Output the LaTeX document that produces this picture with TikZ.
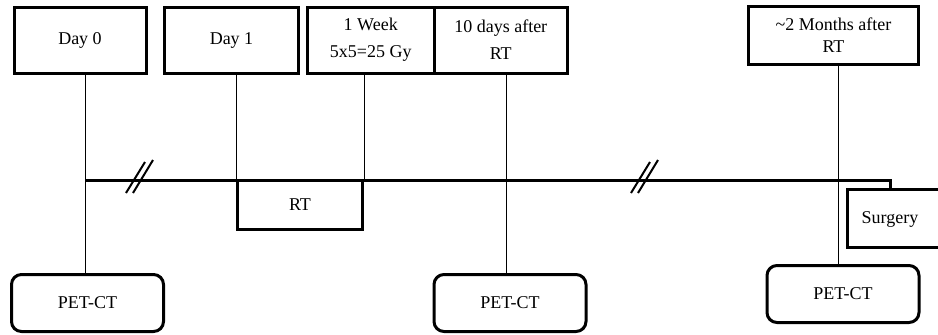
\documentclass[tikz,border=0pt]{standalone}
\usepackage{fontspec}
\setmainfont{Liberation Serif}
\usetikzlibrary{positioning, calc}

\begin{document}
\begin{tikzpicture}[x=1pt, y=-1pt,
    font=\fontsize{18}{27}\selectfont,
    topbox/.style={draw, rectangle, line width=3pt, inner sep=0pt, align=center},
    petbox/.style={draw, rectangle, rounded corners=10pt, line width=3pt, inner sep=0pt, minimum width=152pt, minimum height=57pt},
    vline/.style={line width=1pt},
    timeline/.style={line width=3pt},
    brk/.style={line width=2pt}]
    \useasboundingbox (0,0) rectangle (938,335);
    \clip (0,0) rectangle (938,335);

    % Time point boxes
    \node[topbox, minimum width=132pt, minimum height=66pt] (d0) at (80,40) {Day 0};
    \node[topbox, minimum width=134pt, minimum height=66pt] (d1) at (231.5,40) {Day 1};
    \node[topbox, minimum width=126.5pt, minimum height=66pt] (wk) at (370.75,40) {1 Week\\5x5=25 Gy};
    \node[topbox, minimum width=133.5pt, minimum height=66pt] (dt) at (500.75,40) {10 days after\\RT};
    \node[topbox, minimum width=170pt, minimum height=58pt, font=\fontsize{18}{22}\selectfont] (mo) at (833.5,35.5) {\textasciitilde 2 Months after\\RT};

    % Treatment boxes
    \node[topbox, minimum width=125pt, minimum height=49pt] (rt) at (300,204.5) {RT};
    \node[topbox, minimum width=112.5pt, minimum height=58pt] (sgbox) at (903.75,218.5) {};
    \node (sg) at (890,219) {Surgery};

    % Imaging boxes
    \node[petbox] (p1) at (87.5,303) {PET-CT};
    \node[petbox] (p2) at (510,303) {PET-CT};
    \node[petbox] (p3) at (843,294) {PET-CT};

    % Time line
    \coordinate (t0) at (85,180);
    \coordinate (t2) at (506,180);
    \coordinate (t3) at (838,180);
    \coordinate (tend) at (890,180);
    \draw[timeline] (t0) -- (tend) -- (tend |- sgbox.north);

    % Drop lines
    \draw[vline] (d0.south -| t0) -- (t0 |- p1.north);
    \draw[vline] (d1.south -| rt.north west) -- (rt.north west);
    \draw[vline] (wk.south -| rt.north east) -- (rt.north east);
    \draw[vline] (dt.south -| t2) -- (t2 |- p2.north);
    \draw[vline] (mo.south -| t3) -- (t3 |- p3.north);

    % Breaks
    \foreach \bx in {126, 631} {
        \draw[brk] (\bx,193) -- (\bx+19,162);
        \draw[brk] (\bx+7,193) -- (\bx+27,160);
    }
\end{tikzpicture}
\end{document}
